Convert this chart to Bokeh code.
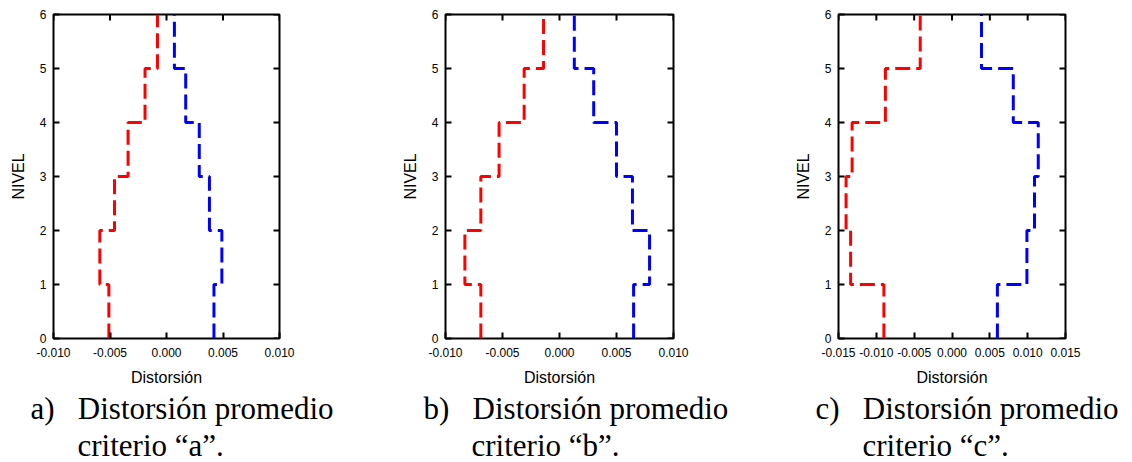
import math
from bokeh.plotting import figure
from bokeh.layouts import row
from bokeh.models import LinearAxis, FixedTicker, NumeralTickFormatter, Range1d, Title
from bokeh.embed import file_html
from bokeh.resources import INLINE

# ---- data ----
levels = [0, 1, 2, 3, 4, 5, 6]
red_a = [-0.0051, -0.0059, -0.0046, -0.0034, -0.0019, -0.0008]
blue_a = [0.0042, 0.0049, 0.0038, 0.0029, 0.0017, 0.0007]
red_b = [-0.0069, -0.0083, -0.0069, -0.0053, -0.0031, -0.0014]
blue_b = [0.0065, 0.0079, 0.0064, 0.0050, 0.0030, 0.0013]
red_c = [-0.0090, -0.0134, -0.0140, -0.0132, -0.0088, -0.0042]
blue_c = [0.0060, 0.0099, 0.0109, 0.0114, 0.0081, 0.0039]
xticks_ab = [-0.010, -0.005, 0.000, 0.005, 0.010]
xticks_c = [-0.015, -0.010, -0.005, 0.000, 0.005, 0.010, 0.015]
yticks = [0, 1, 2, 3, 4, 5, 6]
captions = [("a)", "Distorsión promedio", "criterio “a”."),
            ("b)", "Distorsión promedio", "criterio “b”."),
            ("c)", "Distorsión promedio", "criterio “c”.")]

SANS = "Liberation Sans"
SERIF = "Liberation Serif"
GAP = "\u00a0\u00a0\u00a0"


def profile(vals):
    xs, ys = [], []
    for i, v in enumerate(vals):
        xs += [v, v]
        ys += [levels[i], levels[i + 1]]
    return xs, ys


def make_panel(red, blue, xticks, cap, width, bl, br, tag_off, text_off):
    p = figure(width=width, height=462, output_backend="svg", toolbar_location=None,
               x_range=Range1d(xticks[0], xticks[-1]), y_range=Range1d(0, 6),
               min_border_left=bl, min_border_right=br, min_border_top=14, min_border_bottom=124)
    p.xaxis.visible = False
    p.yaxis.visible = False
    p.grid.visible = False
    p.outline_line_color = "black"
    p.outline_line_width = 2
    p.background_fill_color = "white"
    p.border_fill_color = "white"

    def style(ax):
        ax.axis_line_color = None
        ax.major_tick_in = 6
        ax.major_tick_out = 0
        ax.major_tick_line_width = 2
        ax.major_tick_line_color = "black"
        ax.minor_tick_line_color = None
        ax.major_label_text_font = SANS
        ax.major_label_text_font_size = "12px"
        ax.major_label_text_color = "black"
        ax.axis_label_text_font = SANS
        ax.axis_label_text_font_style = "normal"
        ax.axis_label_text_font_size = "16px"
        ax.axis_label_text_color = "black"

    xb = LinearAxis(ticker=FixedTicker(ticks=xticks), formatter=NumeralTickFormatter(format="0.000"),
                    axis_label="Distorsión")
    style(xb)
    xb.major_label_standoff = 9
    xb.axis_label_standoff = 9
    p.add_layout(xb, "below")
    yl = LinearAxis(ticker=FixedTicker(ticks=yticks), axis_label="NIVEL")
    style(yl)
    yl.major_label_standoff = 7
    yl.axis_label_standoff = 10
    p.add_layout(yl, "left")

    # mirrored inward ticks on the top and right edges
    p.ray(x=xticks, y=[yticks[-1]] * len(xticks), length=6, length_units="screen",
          angle=-math.pi / 2, line_color="black", line_width=2)
    p.ray(x=[xticks[-1]] * len(yticks), y=yticks, length=6, length_units="screen",
          angle=math.pi, line_color="black", line_width=2)

    for vals, col in ((red, "#ff0000"), (blue, "#0000ff")):
        xs, ys = profile(vals)
        p.line(xs, ys, line_color=col, line_width=3, line_dash="15 6")

    tag, l1, l2 = cap
    for txt, off in ((tag + GAP + l1, tag_off), (l2, text_off)):
        p.add_layout(Title(text=txt, align="left", offset=off, standoff=0,
                           text_font=SERIF, text_font_size="31px", text_font_style="normal",
                           text_color="black"), "below")
    return p


pa = make_panel(red_a, blue_a, xticks_ab, captions[0], 390, 53, 111, -23, 24)
pb = make_panel(red_b, blue_b, xticks_ab, captions[1], 390, 55, 107, -22, 26)
pc = make_panel(red_c, blue_c, xticks_c, captions[2], 352, 58, 67, -23, 24)

layout = row(pa, pb, pc)
open("out.html", "w").write(file_html(layout, INLINE))
